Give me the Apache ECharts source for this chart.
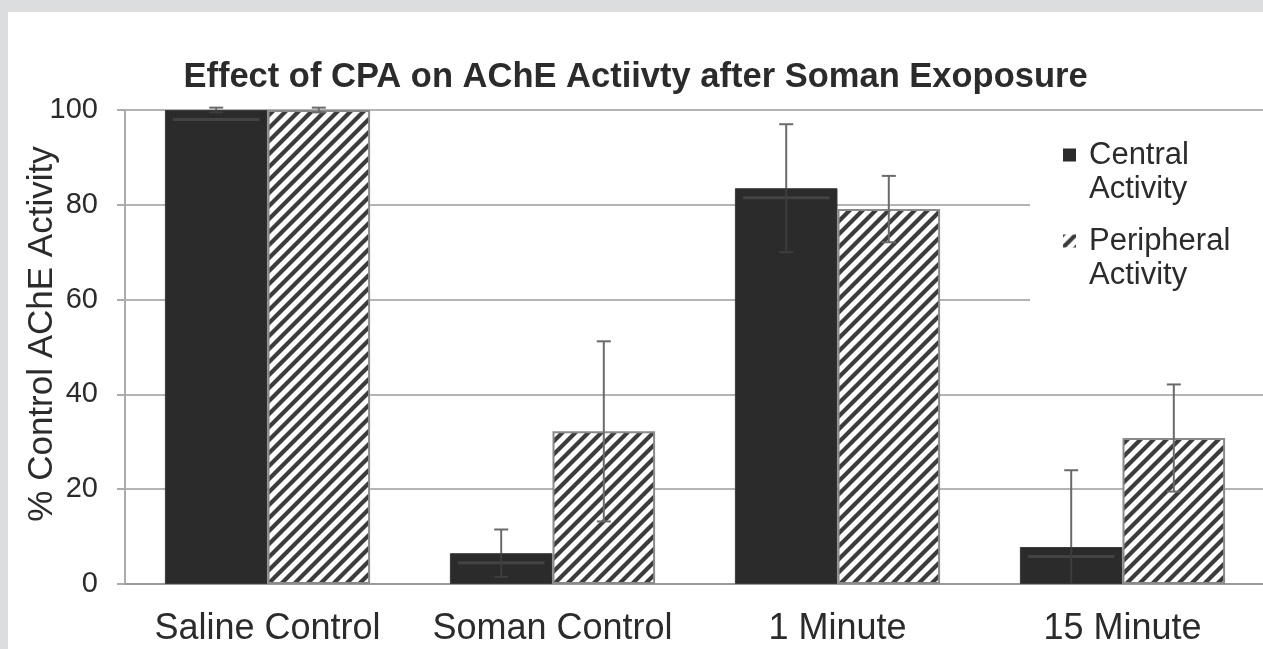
<!DOCTYPE html>
<html>
<head>
<meta charset="utf-8">
<title>Effect of CPA on AChE Activity</title>
<script src="https://cdn.jsdelivr.net/npm/echarts@6/dist/echarts.min.js"></script>
<style>
  html, body { margin: 0; padding: 0; background: #dcdddf; }
  #chart {
    position: absolute;
    left: 8px;
    top: 12px;
    width: 1255px;
    height: 637px;
    background: #fff;
  }
</style>
</head>
<body>
<div id="chart"></div>
<script>
// data
var categories = ['Saline Control', 'Soman Control', '1 Minute', '15 Minute'];
var centralActivity = [100, 6.5, 83.5, 7.8];
var centralErr = [0.5, 5, 13.5, 16.2];
var peripheralActivity = [100, 32.2, 79.1, 30.8];
var peripheralErr = [0.5, 19, 7, 11.3];
var seriesNames = ['Central\nActivity', 'Peripheral\nActivity'];

// diagonal hatch for the peripheral bars
function makeHatch() {
  var s = 13;
  var c = document.createElement('canvas');
  c.width = s;
  c.height = s;
  var ctx = c.getContext('2d');
  ctx.fillStyle = '#ffffff';
  ctx.fillRect(0, 0, s, s);
  ctx.strokeStyle = '#3c3c3c';
  ctx.lineWidth = 4.2;
  ctx.beginPath();
  ctx.moveTo(-s, s); ctx.lineTo(s, -s);
  ctx.moveTo(0, s); ctx.lineTo(s, 0);
  ctx.moveTo(0, 2 * s); ctx.lineTo(2 * s, 0);
  ctx.stroke();
  return c;
}
var hatch = { image: makeHatch(), repeat: 'repeat' };

// legend square sits on first text line
var legendIcon = 'path://M0,0h13v13h-13zM0,46.99h0.001v0.001h-0.001z';

var catGap = 0.28;

function errData(vals, errs) {
  var out = [];
  for (var i = 0; i < vals.length; i++) {
    out.push([i, vals[i] - errs[i], vals[i] + errs[i], vals[i]]);
  }
  return out;
}

// error bars; on the dark bars the part inside the bar is nearly hidden
function errRender(side) {
  return function (params, api) {
    var band = api.size([1, 0])[0];
    var bw = band * (1 - catGap) / 2;
    var x = api.coord([api.value(0), 0])[0] + side * bw / 2;
    var lo = Math.max(api.value(1), 0);
    var yHi = api.coord([0, api.value(2)])[1];
    var yLo = api.coord([0, lo])[1];
    var yBar = api.coord([0, api.value(3)])[1];
    var outer = { stroke: '#6a6a6a', lineWidth: 2 };
    var inner = side < 0 ? { stroke: '#3d3d3d', lineWidth: 2 } : outer;
    var kids = [];
    if (side < 0) {
      // bevel band near the top of the dark bar
      kids.push({
        type: 'rect',
        shape: { x: x - bw / 2 + 8, y: yBar + 8, width: bw - 16, height: 3 },
        style: { fill: '#434343' }
      });
    }
    kids.push(
      { type: 'line', shape: { x1: x, y1: yHi, x2: x, y2: yBar }, style: outer },
      { type: 'line', shape: { x1: x, y1: yBar, x2: x, y2: yLo }, style: inner },
      { type: 'line', shape: { x1: x - 7, y1: yHi, x2: x + 7, y2: yHi }, style: outer }
    );
    if (api.value(1) > 0) {
      kids.push({ type: 'line', shape: { x1: x - 7, y1: yLo, x2: x + 7, y2: yLo }, style: inner });
    }
    return { type: 'group', children: kids };
  };
}

var chart = echarts.init(document.getElementById('chart'));
chart.setOption({
  animation: false,
  textStyle: { fontFamily: 'Liberation Sans, Arial, sans-serif' },
  title: {
    text: 'Effect of CPA on AChE Actiivty after Soman Exoposure',
    left: 'center',
    top: 43,
    textStyle: { fontSize: 34.5, fontWeight: 'bold', color: '#2b2b2b' }
  },
  legend: {
    data: seriesNames,
    orient: 'vertical',
    left: 1022,
    top: 112,
    padding: [14, 40, 22, 33],
    backgroundColor: '#ffffff',
    itemGap: 18,
    itemWidth: 13,
    itemHeight: 47,
    icon: legendIcon,
    itemStyle: { borderWidth: 0 },
    textStyle: { fontSize: 31, lineHeight: 34, color: '#2b2b2b', padding: [0, 0, 0, 8] }
  },
  grid: { left: 117, top: 98, bottom: 65, width: 1140, outerBoundsMode: 'none', containLabel: false },
  xAxis: {
    type: 'category',
    data: categories,
    axisLine: { lineStyle: { color: '#9a9a9a', width: 2 } },
    axisTick: { length: 10, lineStyle: { color: '#9a9a9a', width: 2 } },
    axisLabel: { interval: 0, fontSize: 36, color: '#2b2b2b', margin: 27 }
  },
  yAxis: {
    type: 'value',
    min: 0,
    max: 100,
    interval: 20,
    name: '% Control AChE Activity',
    nameLocation: 'middle',
    nameGap: 65,
    nameMoveOverlap: false,
    nameTextStyle: { fontSize: 35, color: '#2b2b2b', padding: [0, 0, 0, 26] },
    axisLine: { show: true, lineStyle: { color: '#ababab', width: 2 } },
    axisTick: { show: true, length: 8, lineStyle: { color: '#ababab', width: 2 } },
    axisLabel: { fontSize: 29, color: '#2b2b2b', margin: 27 },
    splitLine: { lineStyle: { color: '#b4b4b4', width: 2 } }
  },
  series: [
    {
      name: seriesNames[0],
      type: 'bar',
      data: centralActivity,
      barGap: 0,
      barCategoryGap: (catGap * 100) + '%',
      itemStyle: { color: '#2b2b2b', borderColor: '#3a3a3a', borderWidth: 1 }
    },
    {
      name: seriesNames[1],
      type: 'bar',
      data: peripheralActivity,
      barGap: 0,
      barCategoryGap: (catGap * 100) + '%',
      itemStyle: { color: hatch, borderColor: '#8a8a8a', borderWidth: 2 }
    },
    {
      type: 'custom',
      data: errData(centralActivity, centralErr),
      renderItem: errRender(-1),
      z: 5,
      silent: true
    },
    {
      type: 'custom',
      data: errData(peripheralActivity, peripheralErr),
      renderItem: errRender(1),
      z: 5,
      silent: true
    }
  ]
});
</script>
</body>
</html>
